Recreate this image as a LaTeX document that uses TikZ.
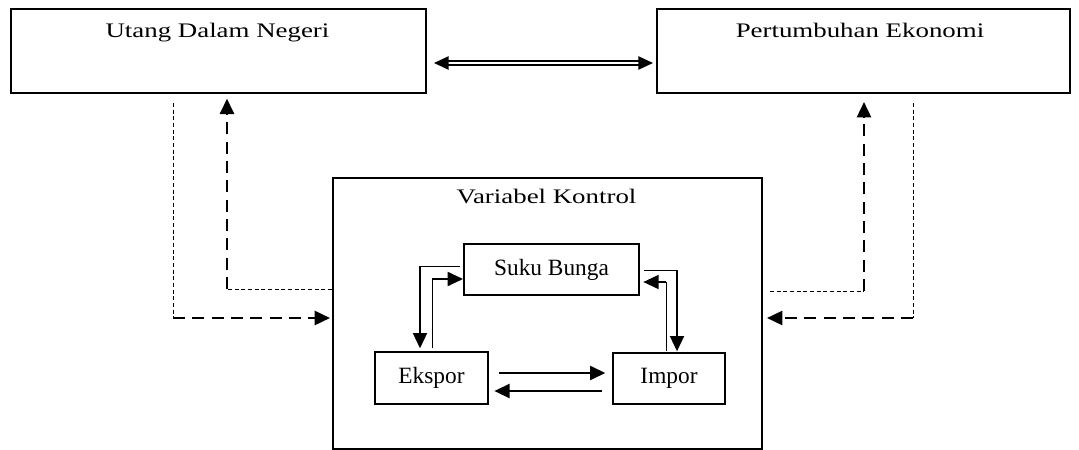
\documentclass[tikz,border=0pt]{standalone}
\usepackage{fontspec}
\setmainfont{Liberation Serif}
\newfontfamily\titlefont[FakeStretch=1.3]{Liberation Serif}
\usetikzlibrary{arrows.meta,calc}
\begin{document}
\begin{tikzpicture}[x=0.75pt,y=-0.75pt,
  box/.style={draw,line width=1.5pt,rectangle,inner sep=0pt,anchor=north west},
  smallbox/.style={box,font=\fontsize{17.5}{20}\selectfont},
  title/.style={anchor=base,inner sep=0pt,font=\titlefont\fontsize{15.5}{18}\selectfont},
  tip/.style={-{Triangle[length=11.5pt,width=10.5pt]}},
  thindash/.style={line width=0.6pt,dash pattern=on 3pt off 2pt},
  thickdash/.style={line width=1.9pt,dash pattern=on 9pt off 5.5pt},
  thinln/.style={line width=0.75pt},
  medln/.style={line width=1.4pt},
  thickln/.style={line width=1.8pt},
  dbl/.style={double,line width=1.1pt,double distance=1.6pt,{Triangle[length=11pt,width=10pt]}-{Triangle[length=11pt,width=10pt]}}
]
\useasboundingbox (0,0) rectangle (1079,450);

% main boxes
\node[box,minimum width=311.25pt,minimum height=63pt] (udn) at (10,8) {};
\node[box,minimum width=309.75pt,minimum height=63pt] (pe) at (656,8) {};
\node[box,minimum width=321.75pt,minimum height=203.25pt] (vk) at (332,177) {};
\node[title] (tudn) at (217.5,37) {Utang Dalam Negeri};
\node[title] (tpe) at (860,37) {Pertumbuhan Ekonomi};
\node[title] (tvk) at (546.5,203) {Variabel Kontrol};

% inner boxes
\node[smallbox,minimum width=131.25pt,minimum height=38.25pt] (sb) at (463,243) {Suku Bunga};
\node[smallbox,minimum width=84.75pt,minimum height=39pt] (ek) at (374,351) {Ekspor};
\node[smallbox,minimum width=84pt,minimum height=38.25pt] (im) at (612,352) {Impor};

% double arrow between top boxes
\draw[dbl] ($(udn.east)+(5.25pt,-9pt)$) -- ($(pe.west)+(-2.25pt,-9pt)$);

% left dashed connectors
\coordinate (l1) at (173,103);
\coordinate (l2) at (173,318);
\draw[thindash] (l1) -- (l2);
\draw[thickdash,tip,shorten >=1.5pt] (l2) -- (vk.west |- l2);
\coordinate (l3) at (227,289);
\draw[thindash] (vk.west |- l3) -- (l3);
\draw[thickdash,tip,shorten >=3.5pt] (l3) -- (udn.south -| l3);

% right dashed connectors
\coordinate (r3) at (864,291);
\draw[thindash] ($(vk.east |- r3)+(5.25pt,0)$) -- (r3);
\draw[thickdash,tip,shorten >=6pt] (r3) -- (pe.south -| r3);
\coordinate (r1) at (913,103);
\coordinate (r2) at (913,318);
\draw[thindash] (r1) -- (r2);
\draw[thickdash,tip,shorten >=3pt] (r2) -- (vk.east |- r2);

% inner connectors
\coordinate (a1) at (420,266);
\draw[thinln] ($(sb.west |- a1)+(-2.25pt,0)$) -- (a1);
\draw[medln,tip,shorten >=2pt] (a1) -- (ek.north -| a1);
\coordinate (a2) at (432,279);
\draw[thinln] ($(ek.north -| a2)+(0,2pt)$) -- (a2);
\draw[medln,tip] (a2) -- (sb.west |- a2);

\coordinate (b1) at (677,270);
\draw[thinln] ($(sb.east |- b1)+(3pt,0)$) -- (b1);
\draw[medln,tip,shorten >=0.5pt] (b1) -- (im.north -| b1);
\coordinate (b2) at (666,282);
\draw[thinln] ($(im.north -| b2)+(0,1pt)$) -- (b2);
\draw[medln,tip,shorten >=2.5pt] (b2) -- (sb.east |- b2);

\draw[thickln,tip] ($(ek.east)+(7.5pt,3.75pt)$) -- ($(ek.east -| im.west)+(-5pt,3.75pt)$);
\draw[thickln,tip] ($(ek.east -| im.west)+(-7.5pt,-9.75pt)$) -- ($(ek.east)+(4pt,-9.75pt)$);
\end{tikzpicture}
\end{document}
